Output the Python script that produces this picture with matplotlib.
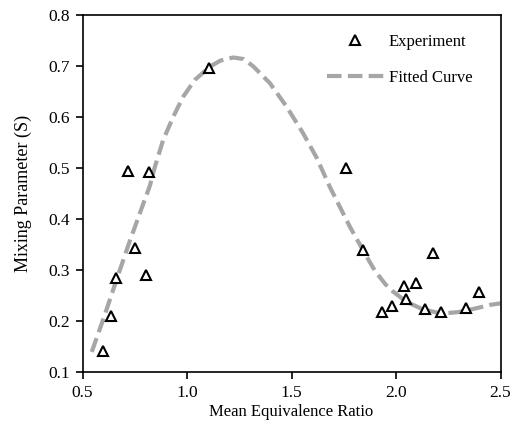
import matplotlib
matplotlib.use("Agg")
import matplotlib.pyplot as plt

plt.rcParams['font.family'] = ['Liberation Serif', 'DejaVu Serif']

# Experimental data
exp_x = [0.596, 0.635, 0.660, 0.717, 0.749, 0.803, 0.819, 1.104, 1.760, 1.844,
         1.932, 1.980, 2.039, 2.050, 2.095, 2.138, 2.178, 2.216, 2.337, 2.396]
exp_y = [0.142, 0.210, 0.285, 0.493, 0.343, 0.291, 0.491, 0.696, 0.500, 0.339,
         0.218, 0.230, 0.268, 0.243, 0.275, 0.224, 0.333, 0.218, 0.226, 0.257]

# Fitted curve
fit_x = [0.544, 0.600, 0.660, 0.720, 0.780, 0.822, 0.846, 0.886, 0.934, 0.981,
         1.037, 1.109, 1.160, 1.221, 1.270, 1.316, 1.396, 1.476, 1.555, 1.620,
         1.683, 1.779, 1.850, 1.900, 1.950, 1.986, 2.050, 2.130, 2.220, 2.300,
         2.380, 2.450, 2.500]
fit_y = [0.140, 0.205, 0.278, 0.350, 0.418, 0.465, 0.502, 0.555, 0.600, 0.639,
         0.672, 0.698, 0.710, 0.716, 0.713, 0.699, 0.666, 0.620, 0.568, 0.520,
         0.463, 0.385, 0.333, 0.298, 0.272, 0.258, 0.238, 0.223, 0.215, 0.218,
         0.225, 0.232, 0.235]

x_ticks = [0.5, 1.0, 1.5, 2.0, 2.5]
y_ticks = [0.1, 0.2, 0.3, 0.4, 0.5, 0.6, 0.7, 0.8]

fig = plt.figure(figsize=(5.16, 4.28), dpi=100)
ax = fig.add_axes([0.160, 0.130, 0.810, 0.836])

ax.plot(exp_x, exp_y, linestyle='none', marker='^', markersize=7,
        markerfacecolor='white', markeredgecolor='black', markeredgewidth=1.5,
        label='Experiment', zorder=3)
ax.plot(fit_x, fit_y, color='#A6A6A6', linewidth=3, dashes=(3.5, 1.5),
        label='Fitted Curve', zorder=2)

ax.set_xlim(0.5, 2.5)
ax.set_ylim(0.1, 0.8)
ax.set_xticks(x_ticks)
ax.set_yticks(y_ticks)
ax.set_xticklabels([f"{v:.1f}" for v in x_ticks])
ax.set_yticklabels([f"{v:.1f}" for v in y_ticks])
ax.tick_params(direction='out', length=5, width=1.2, labelsize=12.5,
               colors='black', pad=4)
for s in ax.spines.values():
    s.set_linewidth(1.2)

ax.set_xlabel('Mean Equivalence Ratio', fontsize=12, labelpad=2)
ax.set_ylabel('Mixing Parameter (S)', fontsize=13, labelpad=12)

ax.legend(loc='upper left', frameon=False, fontsize=12, handlelength=3.4,
          handletextpad=0.3, labelspacing=1.2, borderpad=0, borderaxespad=0,
          bbox_to_anchor=(0.585, 0.945))

fig.savefig('out.png', dpi=100)
